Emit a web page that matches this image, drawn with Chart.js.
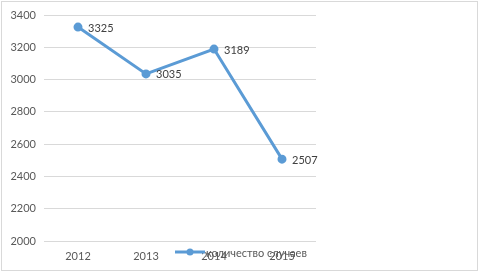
<!DOCTYPE html>
<html>
<head>
<meta charset="utf-8">
<script src="https://cdn.jsdelivr.net/npm/chart.js@4"></script>
<style>
  html, body { margin: 0; padding: 0; background: #fff; }
  #wrap { width: 480px; height: 273px; }
</style>
</head>
<body>
<div id="wrap"><canvas id="c" width="480" height="273"></canvas></div>
<script>
const years = ['2012', '2013', '2014', '2015'];
const cases = [3325, 3035, 3189, 2507];
const yTicks = [2000, 2200, 2400, 2600, 2800, 3000, 3200, 3400];
const seriesName = 'количество случаев';

const blue = '#5b9bd5';
const textGrey = '#595959';
const fontFamily = 'Lato, "Liberation Sans", sans-serif';

// frame + white background
const framePlugin = {
    id: 'frame',
    beforeDraw(chart) {
        const ctx = chart.ctx;
        ctx.save();
        ctx.fillStyle = '#fff';
        ctx.fillRect(0, 0, chart.width, chart.height);
        ctx.strokeStyle = '#d9d9d9';
        ctx.lineWidth = 1;
        ctx.strokeRect(1.5, 1.5, 476, 269);
        ctx.restore();
    }
};

// value labels to the right of each point
const valueLabels = {
    id: 'valueLabels',
    afterDatasetsDraw(chart) {
        const ctx = chart.ctx;
        const meta = chart.getDatasetMeta(0);
        ctx.save();
        ctx.font = '11px ' + fontFamily;
        ctx.fillStyle = '#404040';
        ctx.textAlign = 'left';
        ctx.textBaseline = 'middle';
        meta.data.forEach((pt, i) => {
            ctx.fillText(String(chart.data.datasets[0].data[i]), pt.x + 10, pt.y + 1);
        });
        ctx.restore();
    }
};

// legend sits over the x labels like in the original
const bottomLegend = {
    id: 'bottomLegend',
    afterDraw(chart) {
        const ds = chart.data.datasets[0];
        const ctx = chart.ctx;
        const y = 252;
        ctx.save();
        ctx.strokeStyle = ds.borderColor;
        ctx.lineWidth = 3;
        ctx.beginPath();
        ctx.moveTo(175, y);
        ctx.lineTo(205, y);
        ctx.stroke();
        ctx.fillStyle = ds.pointBackgroundColor;
        ctx.beginPath();
        ctx.arc(190, y, 3.5, 0, Math.PI * 2);
        ctx.fill();
        ctx.font = '11px ' + fontFamily;
        ctx.fillStyle = textGrey;
        ctx.textBaseline = 'middle';
        ctx.fillText(ds.label, 206, y + 1);
        ctx.restore();
    }
};

new Chart(document.getElementById('c').getContext('2d'), {
    type: 'line',
    data: {
        labels: years,
        datasets: [{
            label: seriesName,
            data: cases,
            borderColor: blue,
            backgroundColor: blue,
            pointBackgroundColor: blue,
            pointBorderColor: blue,
            borderWidth: 3,
            pointRadius: 3,
            tension: 0
        }]
    },
    options: {
        responsive: false,
        animation: false,
        events: [],
        layout: { padding: { left: 0, right: 164, top: 15, bottom: 0 } },
        plugins: {
            legend: { display: false },
            tooltip: { enabled: false }
        },
        scales: {
            x: {
                offset: true,
                grid: { display: false, drawTicks: false },
                border: { display: false },
                ticks: { color: textGrey, font: { family: fontFamily, size: 11 }, padding: 9 },
                afterFit(s) { s.height = 32; }
            },
            y: {
                min: 2000,
                max: 3400,
                afterBuildTicks(s) { s.ticks = yTicks.map(v => ({ value: v })); },
                grid: { color: '#d9d9d9', drawTicks: false },
                border: { display: false },
                ticks: {
                    color: textGrey,
                    font: { family: fontFamily, size: 11 },
                    padding: 8,
                    callback: v => String(v)
                },
                afterFit(s) { s.width = 44; }
            }
        }
    },
    plugins: [framePlugin, valueLabels, bottomLegend]
});
</script>
</body>
</html>
